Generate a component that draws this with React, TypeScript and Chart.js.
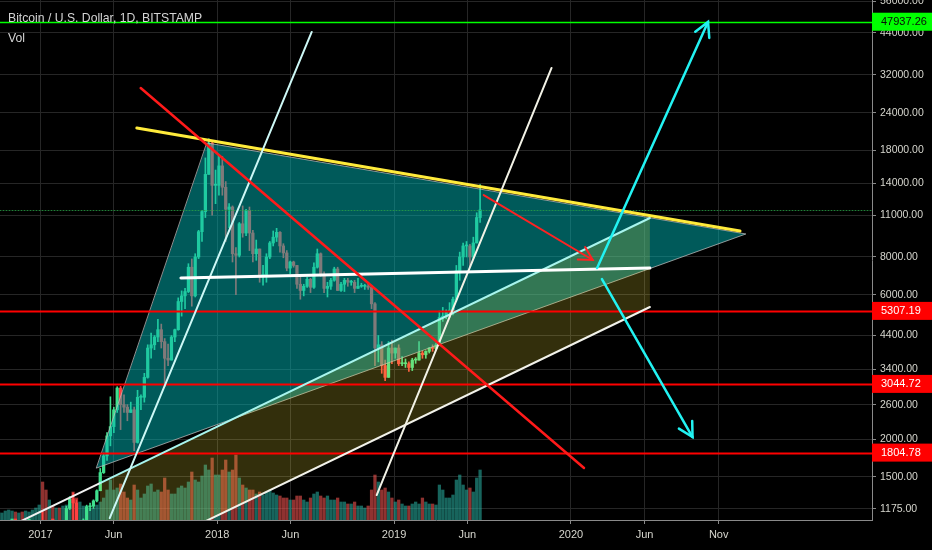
import React, { useEffect, useRef } from 'react';
import { Chart, registerables } from 'chart.js';

Chart.register(...registerables);

// ---------- texts ----------
const TITLE = 'Bitcoin / U.S. Dollar, 1D, BITSTAMP';
const VOL_TITLE = 'Vol';

// ---------- weekly candles (week starting Monday) ----------
const FIRST_WEEK = '2016-10-03';
const FIRST_OPEN = 612;
const HIGHS = [
  620, 642, 660, 720, 740, 720, 750, 750, 775, 775, 795, 935, 1000,
  1150, 910, 930, 930, 1030, 1075, 1060, 1200, 1290, 1330, 1260, 1070, 1090,
  1210, 1230, 1260, 1360, 1600, 1800, 2100, 2760, 2550, 2980, 2990, 2800, 2600,
  2650, 2550, 2900, 2800, 3300, 4100, 4480, 4400, 4980, 4800, 4300, 4120, 4400,
  4620, 5860, 6180, 6300, 7600, 7880, 8200, 9800, 11400, 17000, 19666, 19200, 15500,
  17200, 17200, 14200, 12000, 11800, 8600, 10400, 11800, 11500, 11700, 9800, 9100, 8500,
  7500, 8200, 9000, 9750, 9950, 9700, 8850, 8400, 7750, 7750, 7500, 6850, 6500,
  6850, 6800, 7650, 8500, 8250, 7150, 6600, 6800, 7400, 7400, 6600, 6800, 6800,
  6700, 6700, 6800, 6550, 6500, 6600, 6450, 5650, 4400, 4200, 3650, 4200, 4250,
  4000, 4100, 3750, 3680, 3600, 3700, 3720, 4200, 3900, 3920, 4020, 4100, 4150,
  5300, 5450, 5350, 5650, 5900, 7500, 8300, 8900, 9000, 8800, 9300, 11200, 13880,
];
const LOWS = [
  605, 615, 628, 650, 680, 695, 700, 725, 730, 755, 770, 790, 880,
  880, 750, 820, 880, 910, 950, 990, 1050, 1170, 975, 940, 890, 930,
  1060, 1160, 1180, 1240, 1350, 1540, 1700, 1900, 2100, 2450, 2150, 2450, 2300,
  2450, 1830, 1940, 2500, 2650, 3180, 3700, 3950, 4200, 4000, 2980, 3500, 3650,
  4200, 4580, 5100, 5400, 6100, 5500, 5900, 7900, 9000, 10800, 15000, 11000, 12000,
  12800, 12800, 9000, 10000, 7700, 6000, 8000, 9300, 9400, 8400, 7700, 7800, 6600,
  6450, 6600, 7900, 8700, 9000, 8300, 7950, 7200, 7050, 7400, 6300, 5800, 5950,
  6350, 6100, 6300, 7350, 6900, 6100, 5900, 6250, 6650, 6200, 6150, 6150, 6400,
  6450, 6100, 6300, 6350, 6250, 6250, 5400, 3500, 3600, 3300, 3120, 3200, 3550,
  3700, 3500, 3500, 3450, 3350, 3370, 3560, 3650, 3700, 3700, 3850, 3900, 3950,
  4080, 4900, 5000, 5050, 5150, 5700, 6700, 7500, 8000, 7450, 7900, 8900, 10400,
];
const CLOSES = [
  617, 638, 655, 700, 705, 702, 745, 735, 765, 770, 790, 900, 995,
  905, 820, 920, 915, 1020, 995, 1055, 1180, 1270, 1230, 960, 970, 1080,
  1195, 1200, 1250, 1350, 1550, 1760, 2050, 2200, 2500, 2950, 2600, 2550, 2450,
  2500, 1950, 2750, 2750, 3200, 4000, 4100, 4350, 4600, 4200, 3700, 3650, 4350,
  4600, 5700, 5950, 6150, 7400, 5950, 8000, 9700, 11300, 15000, 19000, 13800, 13800,
  16000, 13600, 11500, 11700, 8200, 8100, 10300, 9600, 11400, 9600, 8200, 8500, 6900,
  7000, 8000, 8900, 9300, 9650, 8700, 8250, 7350, 7700, 7500, 6500, 6200, 6400,
  6750, 6350, 7400, 8200, 7000, 6300, 6400, 6700, 7300, 6200, 6500, 6700, 6600,
  6600, 6300, 6400, 6400, 6400, 6350, 5600, 4000, 4100, 3500, 3200, 4000, 3850,
  4000, 3550, 3550, 3550, 3450, 3650, 3650, 3850, 3800, 3900, 4000, 3990, 4100,
  5050, 5100, 5300, 5300, 5800, 7200, 8000, 8700, 8700, 8000, 8900, 10800, 11440,
];
// average daily volume per week (K BTC)
const VOLUMES = [
  8, 7, 9, 10, 9, 8, 7, 8, 9, 8, 10, 12, 15,
  38, 30, 20, 14,
  12, 12, 14, 15, 16, 28, 22, 18, 14,
  14, 12, 12, 15, 18, 22, 30, 40, 30,
  32, 36, 28, 22, 20, 35, 30, 22,
  26, 34, 36, 28, 30, 28, 42, 30, 26,
  26, 32, 34, 32, 38, 48, 40, 38, 44,
  55, 50, 62, 45,
  45, 50, 60, 48, 50, 65, 42, 35, 32,
  30, 30, 26, 28, 25, 28, 30, 27, 25, 24, 22, 22, 20, 20, 24, 24, 20,
  18, 22, 26, 28, 24, 22, 24, 20, 20, 22, 18, 18, 16, 16, 18, 14, 14, 12,
  14, 30, 45, 38, 30, 32,
  28, 22, 18, 20, 16, 14, 14, 16, 18, 16, 22, 18, 16, 16, 15,
  35, 30, 22, 22, 25, 40, 45, 35, 30, 32, 28, 42, 50,
];

// ---------- axes ----------
const X_TICK_DATES = ['2017-01-01', '2017-06-01', '2018-01-01', '2018-06-01', '2019-01-01', '2019-06-01', '2020-01-01', '2020-06-01', '2020-11-01'];
const X_TICK_LABELS = ['2017', 'Jun', '2018', 'Jun', '2019', 'Jun', '2020', 'Jun', 'Nov'];
const Y_TICKS = [1175, 1500, 2000, 2600, 3400, 4400, 6000, 8000, 11000, 14000, 18000, 24000, 32000, 44000, 56000];
const X_MIN = -83.4; // days from 2017-01-01
const X_MAX = 1716.4;
const Y_MIN = 1080.6;
const Y_MAX = 56557;
const VOL_MAX = 520;

// ---------- horizontal levels ----------
const LEVEL_PRICES = [47937.26, 5307.19, 3044.72, 1804.78];
const LEVEL_COLORS = ['#00ff00', '#ff0000', '#ff0000', '#ff0000'];
const LEVEL_TEXT_COLORS = ['#0a0a0a', '#ffffff', '#ffffff', '#ffffff'];

// ---------- drawings (date, price) ----------
type Pt = [string, number];
const TRIANGLE: Pt[] = [['2017-12-11', 19050], ['2020-12-27', 9530], ['2017-04-27', 1605]];
const CHANNEL_UPPER: Pt[] = [['2017-05-04', 1431], ['2020-06-12', 10763]];
const CHANNEL_LOWER: Pt[] = [['2017-05-04', 727], ['2020-06-12', 5466]];
const CHANNEL_EXT: Pt[] = [['2016-10-10', 993], ['2017-05-04', 1431]];
const YELLOW_LINE: Pt[] = [['2017-07-19', 21354], ['2020-12-15', 9750]];
const STEEP_1: Pt[] = [['2017-05-24', 1097], ['2018-07-15', 44335]];
const STEEP_2: Pt[] = [['2018-11-26', 1307], ['2019-11-22', 33708]];
const WHITE_LEVEL: Pt[] = [['2017-10-18', 6815], ['2020-06-12', 7353]];
const RED_DIAGONAL: Pt[] = [['2017-07-27', 28947], ['2020-01-28', 1605]];
const RED_ARROW: Pt[] = [['2019-07-05', 12818], ['2020-02-15', 7818]];
const CYAN_UP: Pt[] = [['2020-02-24', 7353], ['2020-10-10', 47842]];
const CYAN_DOWN: Pt[] = [['2020-03-05', 6764], ['2020-09-08', 2032]];

const DAY0 = Date.UTC(2017, 0, 1);
const dayOf = (s: string) => {
  const [y, m, d] = s.split('-').map(Number);
  return (Date.UTC(y, m - 1, d) - DAY0) / 86400000;
};

const AXIS_FONT = '"Liberation Sans", Arial, sans-serif';
const UP = '#3fe08e';
const DOWN = '#ff4040';

export default function App() {
  const ref = useRef<HTMLCanvasElement | null>(null);

  useEffect(() => {
    const canvas = ref.current;
    if (!canvas) return;
    const start = dayOf(FIRST_WEEK);
    const xs = CLOSES.map((_, i) => start + 7 * i + 3.5);
    const opens = CLOSES.map((_, i) => (i === 0 ? FIRST_OPEN : CLOSES[i - 1]));
    const isUp = CLOSES.map((c, i) => c >= opens[i]);
    const candleColors = isUp.map((u) => (u ? UP : DOWN));
    const volColors = isUp.map((u) => (u ? 'rgba(38,166,154,0.6)' : 'rgba(239,83,80,0.6)'));

    const overlay = {
      id: 'overlay',
      afterDatasetsDraw(chart: any) {
        const { ctx, chartArea: a, scales } = chart;
        const x = scales.x;
        const y = scales.y;
        const P = (p: Pt): [number, number] => [x.getPixelForValue(dayOf(p[0])), y.getPixelForValue(p[1])];
        ctx.save();
        ctx.beginPath();
        ctx.rect(a.left, a.top, a.right - a.left, a.bottom - a.top);
        ctx.clip();
        ctx.lineCap = 'round';

        const poly = (pts: Pt[], fill: string, stroke?: string) => {
          ctx.beginPath();
          pts.forEach((p, i) => {
            const [px, py] = P(p);
            if (i === 0) ctx.moveTo(px, py);
            else ctx.lineTo(px, py);
          });
          ctx.closePath();
          ctx.fillStyle = fill;
          ctx.fill();
          if (stroke) {
            ctx.strokeStyle = stroke;
            ctx.lineWidth = 1;
            ctx.stroke();
          }
        };
        const line = (pts: Pt[], color: string, w: number) => {
          ctx.beginPath();
          const [x0, y0] = P(pts[0]);
          const [x1, y1] = P(pts[1]);
          ctx.moveTo(x0, y0);
          ctx.lineTo(x1, y1);
          ctx.strokeStyle = color;
          ctx.lineWidth = w;
          ctx.stroke();
        };
        const arrow = (pts: Pt[], color: string, w: number, len: number) => {
          line(pts, color, w);
          const [fx, fy] = P(pts[0]);
          const [tx, ty] = P(pts[1]);
          const ang = Math.atan2(fy - ty, fx - tx);
          const spread = 0.5;
          ctx.beginPath();
          ctx.moveTo(tx + len * Math.cos(ang - spread), ty + len * Math.sin(ang - spread));
          ctx.lineTo(tx, ty);
          ctx.lineTo(tx + len * Math.cos(ang + spread), ty + len * Math.sin(ang + spread));
          ctx.strokeStyle = color;
          ctx.lineWidth = w;
          ctx.stroke();
        };

        // fills
        poly(TRIANGLE, 'rgba(0,180,180,0.5)', 'rgba(190,190,190,0.75)');
        poly([CHANNEL_UPPER[0], CHANNEL_UPPER[1], CHANNEL_LOWER[1], CHANNEL_LOWER[0]], 'rgba(255,235,59,0.2)');

        // horizontal levels
        LEVEL_PRICES.forEach((v, i) => {
          const py = Math.round(y.getPixelForValue(v)) + 0.5;
          ctx.beginPath();
          ctx.moveTo(a.left, py);
          ctx.lineTo(a.right, py);
          ctx.strokeStyle = LEVEL_COLORS[i];
          ctx.lineWidth = i === 0 ? 1.5 : 2;
          ctx.stroke();
        });
        // last price dotted
        const lastY = Math.round(y.getPixelForValue(CLOSES[CLOSES.length - 1])) + 0.5;
        ctx.save();
        ctx.setLineDash([1, 2]);
        ctx.beginPath();
        ctx.moveTo(a.left, lastY);
        ctx.lineTo(a.right, lastY);
        ctx.strokeStyle = 'rgba(40,160,70,0.8)';
        ctx.lineWidth = 1;
        ctx.stroke();
        ctx.restore();

        // channel lines
        line(CHANNEL_EXT, '#f2f2f2', 2);
        line(CHANNEL_UPPER, '#a8f5ee', 2);
        line(CHANNEL_LOWER, '#f2f2ea', 2);

        // trend lines
        line(YELLOW_LINE, '#ffeb3b', 3);
        line(STEEP_1, '#cdf8f6', 2);
        line(STEEP_2, '#f2f2e6', 2);
        line(WHITE_LEVEL, '#ffffff', 3);
        line(RED_DIAGONAL, '#ff1a1a', 2.5);
        arrow(RED_ARROW, '#ff2222', 2, 15);
        arrow(CYAN_UP, '#22f2f2', 2.5, 16);
        arrow(CYAN_DOWN, '#22f2f2', 2.5, 16);

        ctx.restore();
      },
      afterDraw(chart: any) {
        const { ctx, chartArea: a, scales } = chart;
        const y = scales.y;
        ctx.save();
        // price labels on the axis
        ctx.font = `11px ${AXIS_FONT}`;
        ctx.textBaseline = 'middle';
        ctx.textAlign = 'left';
        LEVEL_PRICES.forEach((v, i) => {
          const py = y.getPixelForValue(v);
          ctx.fillStyle = LEVEL_COLORS[i];
          ctx.fillRect(a.right, py - 9, chart.width - a.right, 18);
          ctx.fillStyle = LEVEL_TEXT_COLORS[i];
          ctx.fillText(v.toFixed(2), a.right + 9, py + 0.5);
        });
        // titles
        ctx.font = `12.2px ${AXIS_FONT}`;
        ctx.fillStyle = '#d4d4d4';
        ctx.textBaseline = 'alphabetic';
        ctx.fillText(TITLE, 8, 22);
        ctx.fillText(VOL_TITLE, 8, 42);
        ctx.restore();
      },
    };

    const chart = new Chart(canvas, {
      type: 'bar',
      data: {
        datasets: [
          {
            type: 'bar',
            label: 'Volume',
            data: xs.map((xv, i) => ({ x: xv, y: VOLUMES[i] })) as any,
            yAxisID: 'v',
            backgroundColor: volColors,
            borderWidth: 0,
            barThickness: 2.6,
            grouped: false,
            order: 3,
          } as any,
          {
            type: 'bar',
            label: 'Wicks',
            data: xs.map((xv, i) => ({ x: xv, y: [LOWS[i], HIGHS[i]] })) as any,
            yAxisID: 'y',
            backgroundColor: candleColors,
            borderWidth: 0,
            barThickness: 1,
            grouped: false,
            order: 2,
          } as any,
          {
            type: 'bar',
            label: 'Bodies',
            data: xs.map((xv, i) => ({ x: xv, y: [opens[i], CLOSES[i]] })) as any,
            yAxisID: 'y',
            backgroundColor: candleColors,
            borderWidth: 0,
            barThickness: 2.6,
            minBarLength: 1,
            grouped: false,
            order: 1,
          } as any,
        ],
      },
      options: {
        animation: false,
        responsive: false,
        events: [],
        layout: { padding: 0 },
        plugins: { legend: { display: false }, tooltip: { enabled: false } },
        scales: {
          x: {
            type: 'linear',
            min: X_MIN,
            max: X_MAX,
            offset: false,
            afterBuildTicks: (s: any) => {
              s.ticks = X_TICK_DATES.map((d) => ({ value: dayOf(d) }));
            },
            afterFit: (s: any) => {
              s.height = 30;
              s.paddingLeft = 0;
              s.paddingRight = 0;
            },
            ticks: {
              autoSkip: false,
              maxRotation: 0,
              padding: 4,
              color: '#d6d6ce',
              font: { family: AXIS_FONT, size: 11 },
              callback: (_v: any, i: number) => X_TICK_LABELS[i],
            },
            grid: { color: '#262626', tickColor: '#8a8a8a', tickLength: 4, offset: false },
            border: { color: '#8a8a8a' },
          },
          y: {
            type: 'logarithmic',
            position: 'right',
            min: Y_MIN,
            max: Y_MAX,
            afterBuildTicks: (s: any) => {
              s.ticks = Y_TICKS.map((v) => ({ value: v }));
            },
            afterFit: (s: any) => {
              s.width = 60;
              s.paddingTop = 0;
              s.paddingBottom = 0;
            },
            ticks: {
              autoSkip: false,
              padding: 4,
              color: '#d6d6ce',
              font: { family: AXIS_FONT, size: 10.5 },
              callback: (v: any) => Number(v).toFixed(2),
            },
            grid: { color: '#262626', tickColor: '#8a8a8a', tickLength: 4 },
            border: { color: '#8a8a8a' },
          },
          v: {
            type: 'linear',
            display: false,
            min: 0,
            max: VOL_MAX,
          },
        },
      } as any,
      plugins: [overlay],
    });
    return () => chart.destroy();
  }, []);

  return (
    <div style={{ position: 'fixed', left: 0, top: 0, width: 932, height: 550, background: '#000' }}>
      <canvas ref={ref} width={932} height={550} style={{ display: 'block' }} />
    </div>
  );
}
